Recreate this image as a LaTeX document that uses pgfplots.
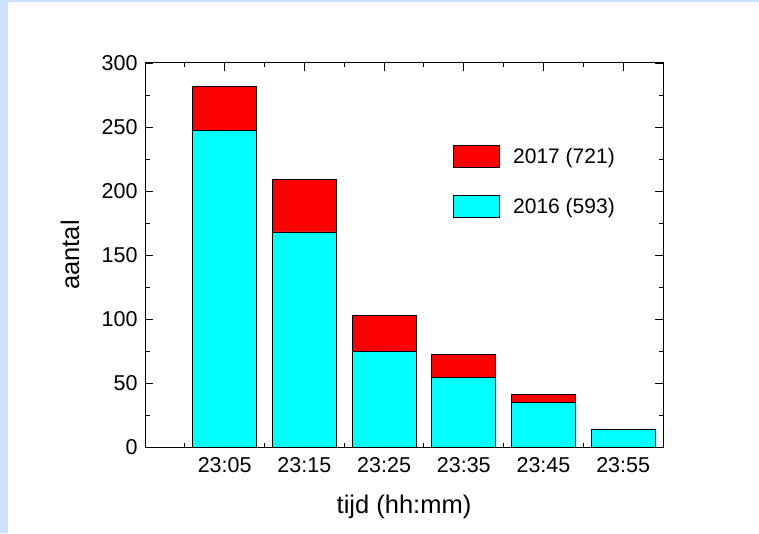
\documentclass[border=0pt]{standalone}
\usepackage{pgfplots}
\pgfplotsset{compat=1.18}
\usepackage{fontspec}
\setmainfont{Liberation Sans}
\definecolor{bgblue}{RGB}{204,226,250}
\definecolor{barred}{RGB}{255,0,0}
\definecolor{barcyan}{RGB}{0,255,255}
\begin{document}
\begin{tikzpicture}[x=1pt,y=1pt]
\useasboundingbox (0,0) rectangle (759,533);
\fill[white] (0,0) rectangle (759,533);
\fill[bgblue] (0,0) rectangle (8,533);
\fill[bgblue] (0,531) rectangle (759,533);
\begin{axis}[
  at={(145pt,86pt)}, anchor=south west,
  scale only axis, width=518pt, height=384pt,
  xmin=-1, xmax=5.5, ymin=0, ymax=300,
  ybar, bar width=0.8, bar shift=0pt,
  xtick={0,1,2,3,4,5},
  xticklabels={23:05,23:15,23:25,23:35,23:45,23:55},
  minor xtick={-0.5,0.5,1.5,2.5,3.5,4.5},
  ytick={0,50,...,300},
  minor ytick={25,75,...,275},
  tick align=inside,
  major tick length=8pt, minor tick length=4.5pt,
  every tick/.style={black, line width=0.9pt},
  axis line style={black, line width=1pt},
  /pgf/number format/assume math mode=true,
  tick label style={font=\fontsize{21.5}{25}\selectfont},
  yticklabel style={xshift=-4pt},
  xticklabel style={yshift=-7pt},
  xlabel={tijd (hh:mm)}, ylabel={aantal},
  label style={font=\fontsize{25.5}{30}\selectfont},
  xlabel style={at={(axis description cs:0.5,-0.157)}, anchor=center},
  ylabel style={at={(axis description cs:-0.1448,0.5)}, anchor=center},
  legend style={at={(0.595,0.786)}, anchor=north west, draw=none, fill=none,
    inner sep=0pt, row sep=27pt, font=\fontsize{21}{24}\selectfont,
    nodes={inner sep=0pt, anchor=west}},
  legend cell align=left,
  legend image code/.code={\draw[#1] (0pt,-11pt) rectangle (46pt,11pt); \path (59pt,0pt);},
]
\addplot[fill=barred, draw=black, line width=0.8pt] coordinates {(0,282) (1,209) (2,103) (3,72) (4,41) (5,14)};
\addlegendentry{2017 (721)}
\addplot[fill=barcyan, draw=black, line width=0.8pt] coordinates {(0,247) (1,168) (2,75) (3,54) (4,35) (5,14)};
\addlegendentry{2016 (593)}
\end{axis}
\end{tikzpicture}
\end{document}
